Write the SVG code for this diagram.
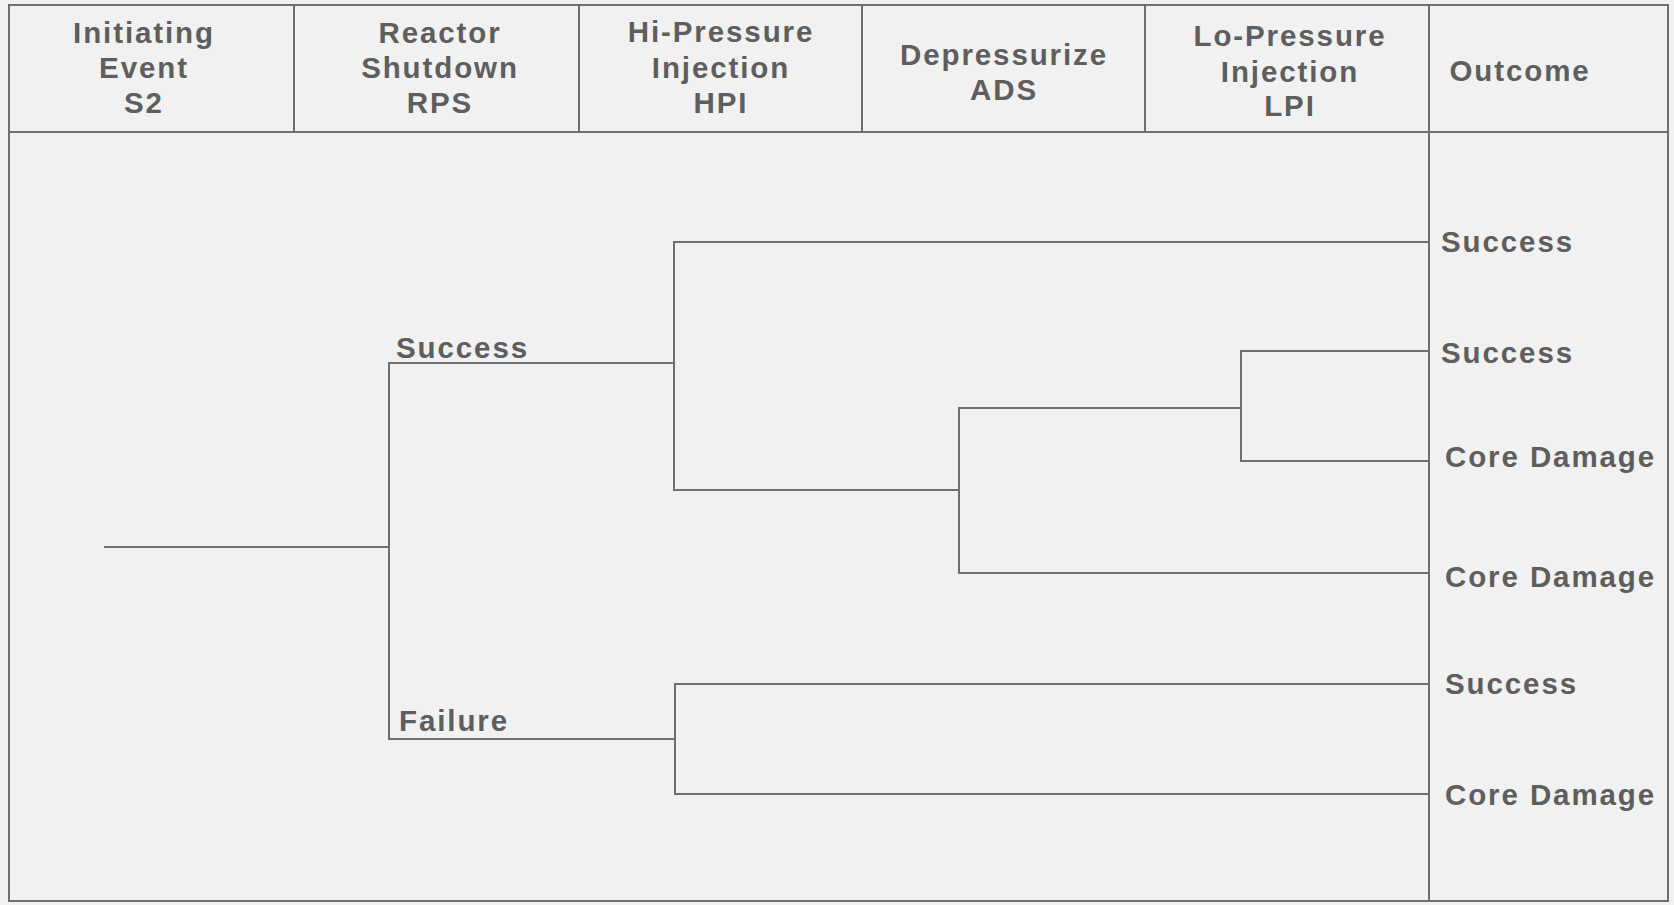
<svg xmlns="http://www.w3.org/2000/svg" width="1674" height="905" viewBox="0 0 1674 905">
  <style>
    .frame { fill: none; stroke: #6f6f6f; stroke-width: 2; }
    .branch { fill: none; stroke: #6f6f6f; stroke-width: 2; stroke-linecap: square; }
    .lbl { font-family: "Liberation Sans", Arial, sans-serif; font-weight: bold; font-size: 29.5px; fill: #5e5e5e; letter-spacing: 1.9px; }
    .hdr { text-anchor: middle; }
  </style>
  <rect x="0" y="0" width="1674" height="905" fill="#f1f1f1"/>

  <!-- table frame -->
  <g id="frame" class="frame">
    <rect x="9" y="5" width="1659" height="896"/>
    <line x1="9" y1="132" x2="1668" y2="132"/>
    <line x1="294" y1="5" x2="294" y2="132"/>
    <line x1="579" y1="5" x2="579" y2="132"/>
    <line x1="862" y1="5" x2="862" y2="132"/>
    <line x1="1145" y1="5" x2="1145" y2="132"/>
    <line x1="1429" y1="5" x2="1429" y2="901"/>
  </g>

  <!-- column headings -->
  <g id="hdr-initiating" class="lbl hdr">
    <text x="144" y="43">Initiating</text>
    <text x="144" y="78">Event</text>
    <text x="144" y="113">S2</text>
  </g>
  <g id="hdr-rps" class="lbl hdr">
    <text x="440" y="43">Reactor</text>
    <text x="440" y="78">Shutdown</text>
    <text x="440" y="113">RPS</text>
  </g>
  <g id="hdr-hpi" class="lbl hdr">
    <text x="721" y="42">Hi-Pressure</text>
    <text x="721" y="78">Injection</text>
    <text x="721" y="113">HPI</text>
  </g>
  <g id="hdr-ads" class="lbl hdr">
    <text x="1004" y="65">Depressurize</text>
    <text x="1004" y="100">ADS</text>
  </g>
  <g id="hdr-lpi" class="lbl hdr">
    <text x="1290" y="46">Lo-Pressure</text>
    <text x="1290" y="82">Injection</text>
    <text x="1290" y="116">LPI</text>
  </g>
  <g id="hdr-outcome" class="lbl hdr">
    <text x="1520" y="81">Outcome</text>
  </g>

  <!-- event tree branches -->
  <g id="connectors" class="branch">
    <path d="M105 547 H389"/>
    <path d="M389 363 V739"/>
    <path d="M389 363 H674"/>
    <path d="M389 739 H675"/>
    <path d="M674 242 V490"/>
    <path d="M674 242 H1429"/>
    <path d="M674 490 H959"/>
    <path d="M959 408 V573"/>
    <path d="M959 408 H1241"/>
    <path d="M959 573 H1429"/>
    <path d="M1241 351 V461"/>
    <path d="M1241 351 H1429"/>
    <path d="M1241 461 H1429"/>
    <path d="M675 684 V794"/>
    <path d="M675 684 H1429"/>
    <path d="M675 794 H1429"/>
  </g>

  <!-- branch labels -->
  <g id="rps-success" class="lbl"><text x="396" y="358">Success</text></g>
  <g id="rps-failure" class="lbl"><text x="399" y="731">Failure</text></g>

  <!-- outcomes -->
  <g id="out-1" class="lbl"><text x="1441" y="252">Success</text></g>
  <g id="out-2" class="lbl"><text x="1441" y="363">Success</text></g>
  <g id="out-3" class="lbl"><text x="1445" y="467">Core Damage</text></g>
  <g id="out-4" class="lbl"><text x="1445" y="587">Core Damage</text></g>
  <g id="out-5" class="lbl"><text x="1445" y="694">Success</text></g>
  <g id="out-6" class="lbl"><text x="1445" y="805">Core Damage</text></g>
</svg>
